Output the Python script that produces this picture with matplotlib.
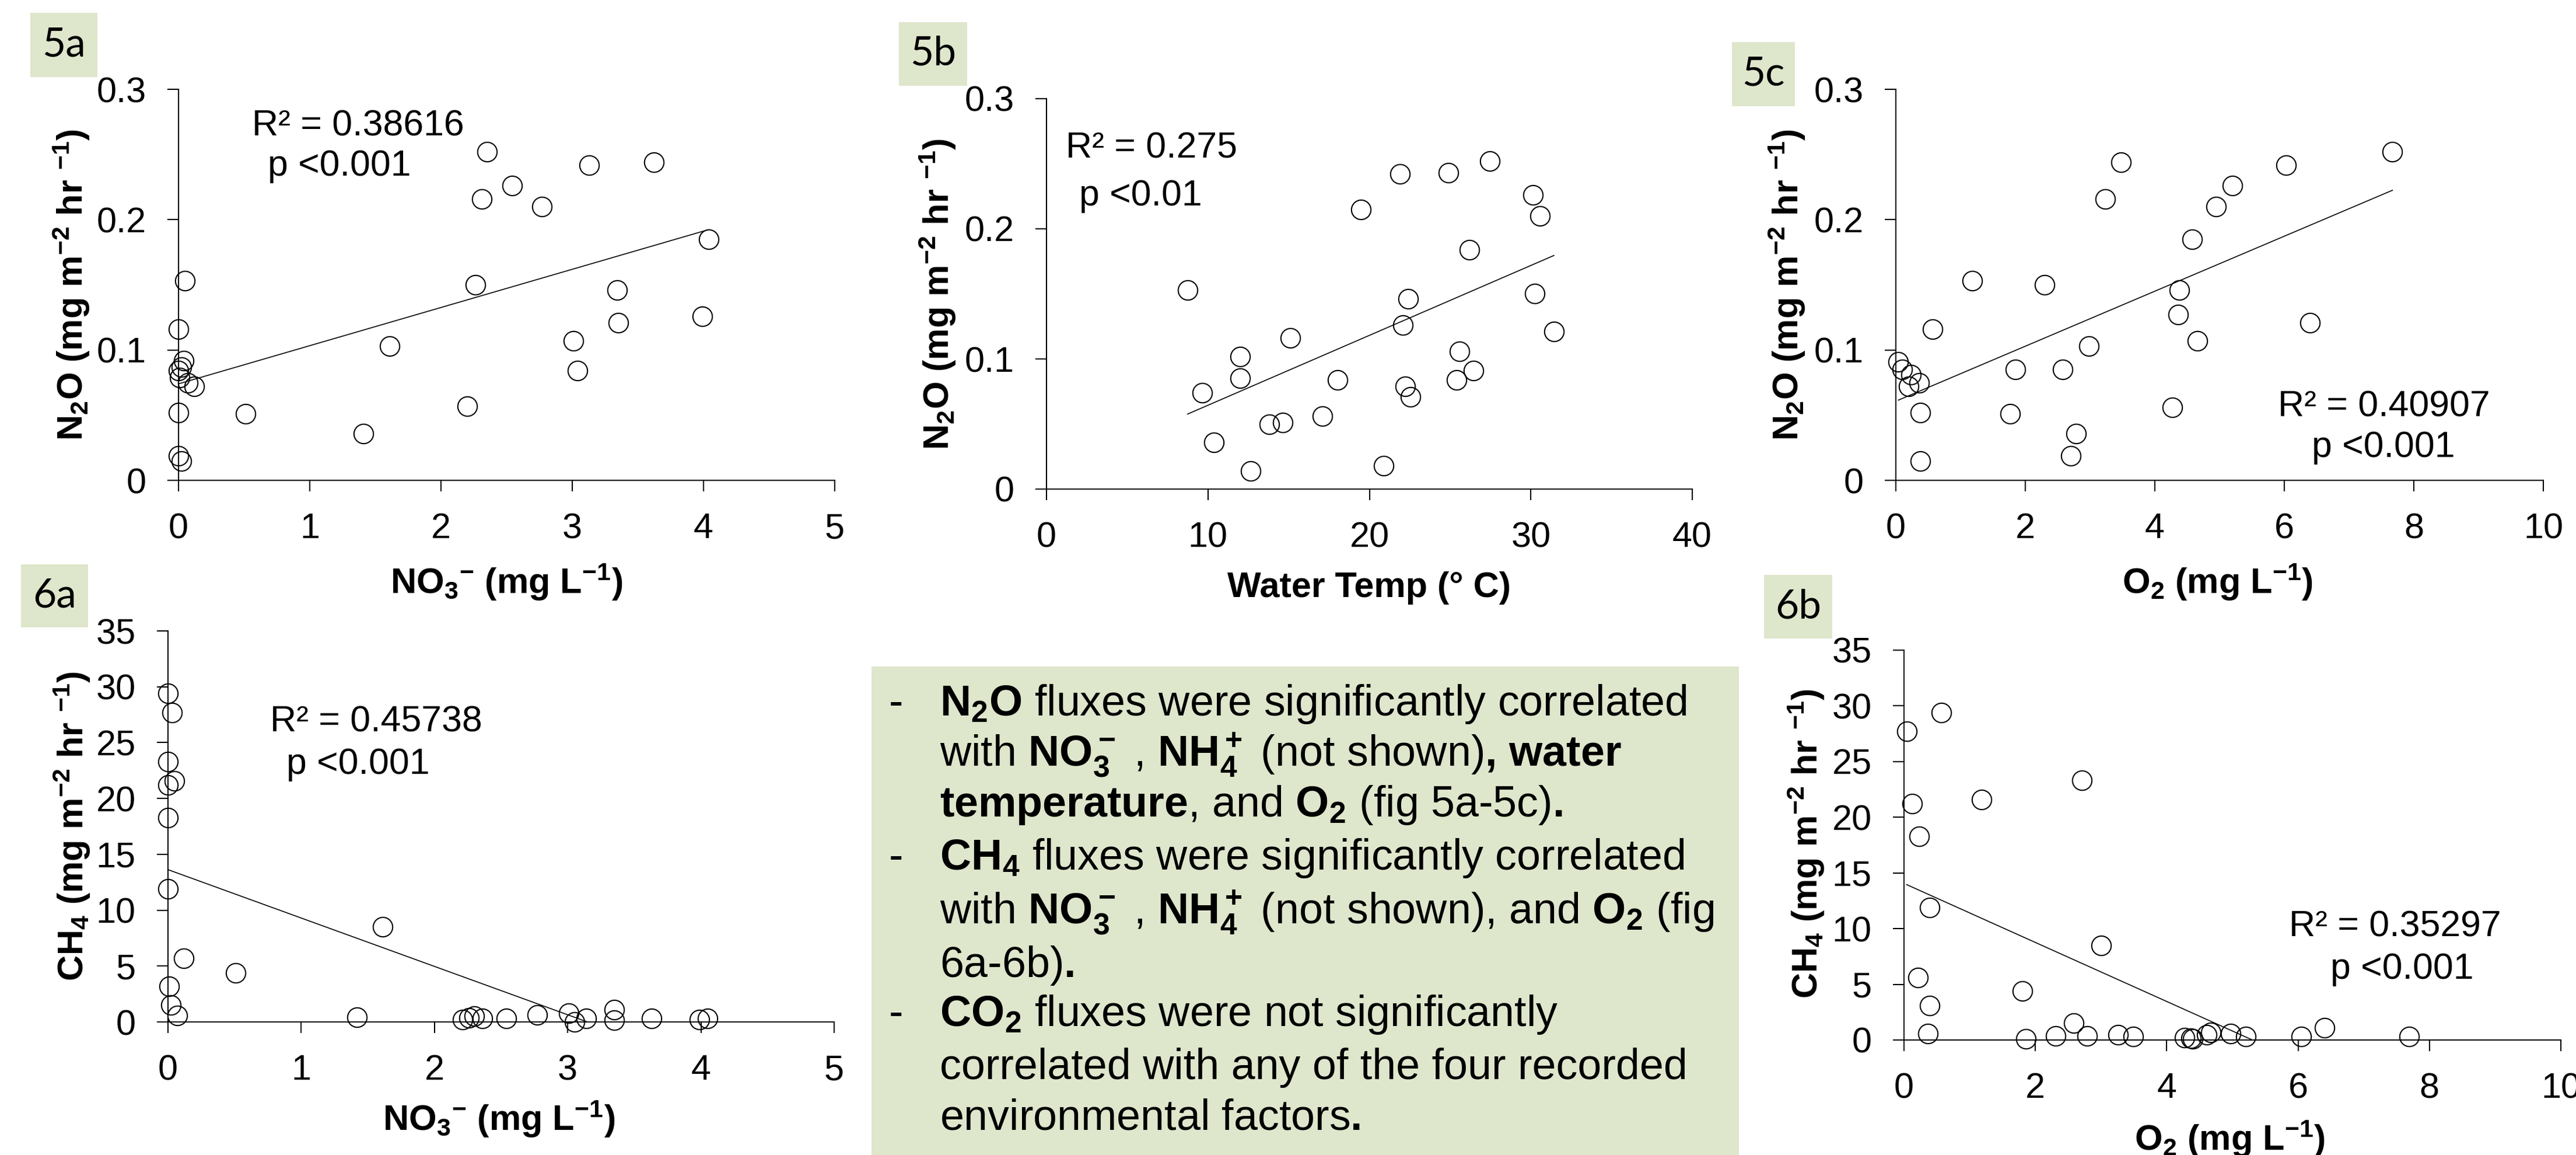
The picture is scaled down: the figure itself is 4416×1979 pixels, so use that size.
import numpy as np
import matplotlib.pyplot as plt
from matplotlib.patches import Rectangle

plt.rcParams['font.family'] = ['Liberation Sans', 'DejaVu Sans']
plt.rcParams['mathtext.fontset'] = 'custom'
plt.rcParams['mathtext.rm'] = 'Liberation Sans'
plt.rcParams['mathtext.it'] = 'Liberation Sans:italic'
plt.rcParams['mathtext.bf'] = 'Liberation Sans:bold'
plt.rcParams['mathtext.default'] = 'regular'

# ---- values ----
no3_5a = [0.05, 0.0, 0.04, 0.02, 0.0, 0.01, 0.07, 0.12, 0.0, 0.0, 0.02, 0.51, 1.41, 1.61,
          2.20, 2.26, 2.31, 2.35, 2.54, 2.77, 3.01, 3.04, 3.13, 3.34, 3.35, 3.62, 3.99, 4.04]
n2o_5a = [0.153, 0.116, 0.092, 0.087, 0.084, 0.079, 0.075, 0.072, 0.052, 0.019, 0.015, 0.051, 0.036, 0.103,
          0.057, 0.150, 0.216, 0.252, 0.226, 0.210, 0.107, 0.084, 0.242, 0.146, 0.121, 0.244, 0.126, 0.185]

temp_5b = [8.74, 9.66, 10.38, 12.01, 12.01, 12.63, 13.79, 14.64, 15.09, 17.10, 18.02, 19.49, 20.89, 21.91,
           22.08, 22.39, 22.22, 22.53, 24.88, 25.39, 25.60, 26.18, 26.45, 27.47, 30.14, 30.24, 30.58, 31.43]
n2o_5b = [0.153, 0.074, 0.036, 0.102, 0.085, 0.014, 0.050, 0.051, 0.116, 0.056, 0.084, 0.215, 0.018, 0.242,
          0.126, 0.146, 0.079, 0.071, 0.243, 0.084, 0.106, 0.184, 0.091, 0.252, 0.226, 0.150, 0.210, 0.121]

o2_5c = [0.04, 0.10, 0.23, 0.20, 0.36, 0.38, 0.38, 0.57, 1.18, 1.77, 1.85, 2.30, 2.58, 2.70,
         2.78, 2.98, 3.23, 3.48, 4.27, 4.36, 4.38, 4.58, 4.66, 4.95, 5.20, 6.03, 6.40, 7.67]
n2o_5c = [0.091, 0.085, 0.081, 0.072, 0.075, 0.052, 0.015, 0.116, 0.153, 0.051, 0.085, 0.150, 0.085, 0.019,
          0.036, 0.103, 0.216, 0.244, 0.056, 0.127, 0.146, 0.185, 0.107, 0.210, 0.226, 0.242, 0.121, 0.252]

no3_6a = [0.0, 0.03, 0.0, 0.0, 0.05, 0.0, 0.0, 0.12, 0.01, 0.02, 0.07, 0.51, 1.42, 1.61,
          2.21, 2.26, 2.30, 2.36, 2.54, 2.77, 3.01, 3.05, 3.14, 3.35, 3.35, 3.63, 3.99, 4.05]
ch4_6a = [29.4, 27.7, 23.3, 21.2, 21.6, 18.3, 11.9, 5.7, 3.2, 1.5, 0.6, 4.4, 0.4, 8.5,
          0.2, 0.35, 0.5, 0.3, 0.3, 0.65, 0.8, 0.0, 0.3, 1.1, 0.15, 0.3, 0.2, 0.3]

o2_6b = [0.04, 0.57, 0.12, 0.23, 0.39, 0.21, 0.39, 0.36, 1.18, 1.80, 1.86, 2.31, 2.58, 2.71,
         2.79, 3.00, 3.26, 3.49, 4.27, 4.37, 4.40, 4.61, 4.67, 4.97, 5.20, 6.05, 6.40, 7.69]
ch4_6b = [27.7, 29.4, 21.2, 18.3, 11.9, 5.6, 3.1, 0.6, 21.6, 4.4, 0.13, 0.36, 1.5, 23.3,
          0.36, 8.5, 0.46, 0.3, 0.23, 0.16, 0.13, 0.46, 0.7, 0.6, 0.3, 0.3, 1.1, 0.3]

# linear trendlines (slope, intercept)
fit_5a = (0.0293, 0.074)
fit_5b = (0.00537, 0.0107)
fit_5c = (0.0211, 0.0607)
fit_6a = (-4.33, 13.63)
fit_6b = (-2.65, 14.06)

stats_5a = ['R² = 0.38616', 'p <0.001']
stats_5b = ['R² = 0.275', 'p <0.01']
stats_5c = ['R² = 0.40907', 'p <0.001']
stats_6a = ['R² = 0.45738', 'p <0.001']
stats_6b = ['R² = 0.35297', 'p <0.001']

n2o_ticks = [0, 0.1, 0.2, 0.3]
n2o_ticklabels = ['0', '0.1', '0.2', '0.3']
ch4_ticks = [0, 5, 10, 15, 20, 25, 30, 35]
no3_ticks = [0, 1, 2, 3, 4, 5]
temp_ticks = [0, 10, 20, 30, 40]
o2_ticks = [0, 2, 4, 6, 8, 10]

n2o_label = r'N$_2$O (mg m$^{-2}$ hr $^{-1}$)'
ch4_label = r'CH$_4$ (mg m$^{-2}$ hr $^{-1}$)'
no3_label = r'NO$_3$$^{-}$ (mg L$^{-1}$)'
temp_label = 'Water Temp (° C)'
o2_label = r'O$_2$ (mg L$^{-1}$)'

summary_lines = [
    ('-', r'$\mathbf{N_2O}$ fluxes were significantly correlated'),
    ('', r'with $\mathbf{NO_3^-}$ , $\mathbf{NH_4^+}$ (not shown)$\mathbf{,}$ $\mathbf{water}$'),
    ('', r'$\mathbf{temperature}$, and $\mathbf{O_2}$ (fig 5a-5c)$\mathbf{.}$'),
    ('-', r'$\mathbf{CH_4}$ fluxes were significantly correlated'),
    ('', r'with $\mathbf{NO_3^-}$ , $\mathbf{NH_4^+}$ (not shown), and $\mathbf{O_2}$ (fig'),
    ('', r'6a-6b)$\mathbf{.}$'),
    ('-', r'$\mathbf{CO_2}$ fluxes were not significantly'),
    ('', 'correlated with any of the four recorded'),
    ('', r'environmental factors$\mathbf{.}$'),
]
summary_baselines = [1226, 1312, 1399, 1490, 1582, 1674, 1758, 1849, 1936]

W, H = 4416, 1979
GREEN = '#DEE6CC'
fig = plt.figure(figsize=(W / 100, H / 100), dpi=100)


def px_axes(left, top, right, bottom):
    return fig.add_axes([left / W, 1 - bottom / H, (right - left) / W, (bottom - top) / H])


def panel(box, x, y, fit, xticks, xlim, yticks, ylim, xlabel, ylabel, stats, stats_pos,
          xlab_pos, ylab_pos, yticklabels=None):
    ax = px_axes(*box)
    ax.plot(x, y, 'o', ms=24, mfc='none', mec='black', mew=1.5, clip_on=False, zorder=3)
    xs = np.array([min(x), max(x)])
    ax.plot(xs, fit[0] * xs + fit[1], color='black', lw=1.2, zorder=2)
    ax.set_xlim(*xlim)
    ax.set_ylim(*ylim)
    ax.set_xticks(xticks)
    ax.set_xticklabels([str(t) for t in xticks])
    ax.set_yticks(yticks)
    ax.set_yticklabels(yticklabels if yticklabels else [str(t) for t in yticks])
    for s in ['top', 'right']:
        ax.spines[s].set_visible(False)
    for s in ['left', 'bottom']:
        ax.spines[s].set_linewidth(1.5)
    ax.tick_params(direction='out', length=13.7, width=1.5, labelsize=44, pad=26)
    ax.set_xlabel(xlabel, fontsize=44, fontweight='bold')
    ax.set_ylabel(ylabel, fontsize=44, fontweight='bold')
    ax.xaxis.set_label_coords(*xlab_pos)
    ax.yaxis.set_label_coords(*ylab_pos)
    ax.xaxis.label.set_va('center')
    ax.yaxis.label.set_va('center')
    (rx, ry), (px, py) = stats_pos
    ax.text(rx, ry, stats[0], transform=ax.transAxes, fontsize=45, va='baseline')
    ax.text(px, py, stats[1], transform=ax.transAxes, fontsize=45, va='baseline')
    return ax


def tag(text, left, top, right, bottom):
    fig.patches.append(Rectangle((left / W, 1 - bottom / H), (right - left) / W, (bottom - top) / H,
                                 transform=fig.transFigure, facecolor=GREEN, edgecolor='none'))
    fig.text((left + right) / 2 / W, 1 - (top + bottom) / 2 / H, text, fontsize=50,
             family=['Lato', 'DejaVu Sans'], ha='center', va='center')


panel((306, 153, 1431, 823), no3_5a, n2o_5a, fit_5a, no3_ticks, (0, 5), n2o_ticks, (0, 0.3),
      no3_label, n2o_label, stats_5a, ((0.112, 0.881), (0.136, 0.779)),
      (0.5, -0.261), (-0.163, 0.5), n2o_ticklabels)
panel((1794, 169, 2901, 838), temp_5b, n2o_5b, fit_5b, temp_ticks, (0, 40), n2o_ticks, (0, 0.3),
      temp_label, n2o_label, stats_5b, ((0.030, 0.848), (0.051, 0.727)),
      (0.5, -0.254), (-0.169, 0.5), n2o_ticklabels)
panel((3250, 153, 4360, 823), o2_5c, n2o_5c, fit_5c, o2_ticks, (0, 10), n2o_ticks, (0, 0.3),
      o2_label, n2o_label, stats_5c, ((0.590, 0.164), (0.642, 0.059)),
      (0.497, -0.261), (-0.168, 0.5), n2o_ticklabels)
panel((288, 1081, 1430, 1751), no3_6a, ch4_6a, fit_6a, no3_ticks, (0, 5), ch4_ticks, (0, 35),
      no3_label, ch4_label, stats_6a, ((0.153, 0.743), (0.178, 0.634)),
      (0.497, -0.248), (-0.144, 0.5))
panel((3264, 1114, 4390, 1782), o2_6b, ch4_6b, fit_6b, o2_ticks, (0, 10), ch4_ticks, (0, 35),
      o2_label, ch4_label, stats_6b, ((0.586, 0.265), (0.649, 0.157)),
      (0.496, -0.254), (-0.149, 0.503))

tag('5a', 52, 22, 167, 132)
tag('5b', 1541, 38, 1658, 147)
tag('5c', 2969, 72, 3077, 182)
tag('6a', 36, 967, 151, 1075)
tag('6b', 3024, 985, 3141, 1094)

# summary box
fig.patches.append(Rectangle((1494 / W, 0), (2981 - 1494) / W, 1 - 1142 / H,
                             transform=fig.transFigure, facecolor=GREEN, edgecolor='none', zorder=0))
for (dash, line), base in zip(summary_lines, summary_baselines):
    if dash:
        fig.text(1524 / W, 1 - base / H, dash, fontsize=53, va='baseline')
    fig.text(1611 / W, 1 - base / H, line, fontsize=53, va='baseline')

fig.savefig('out.png', dpi=100)
